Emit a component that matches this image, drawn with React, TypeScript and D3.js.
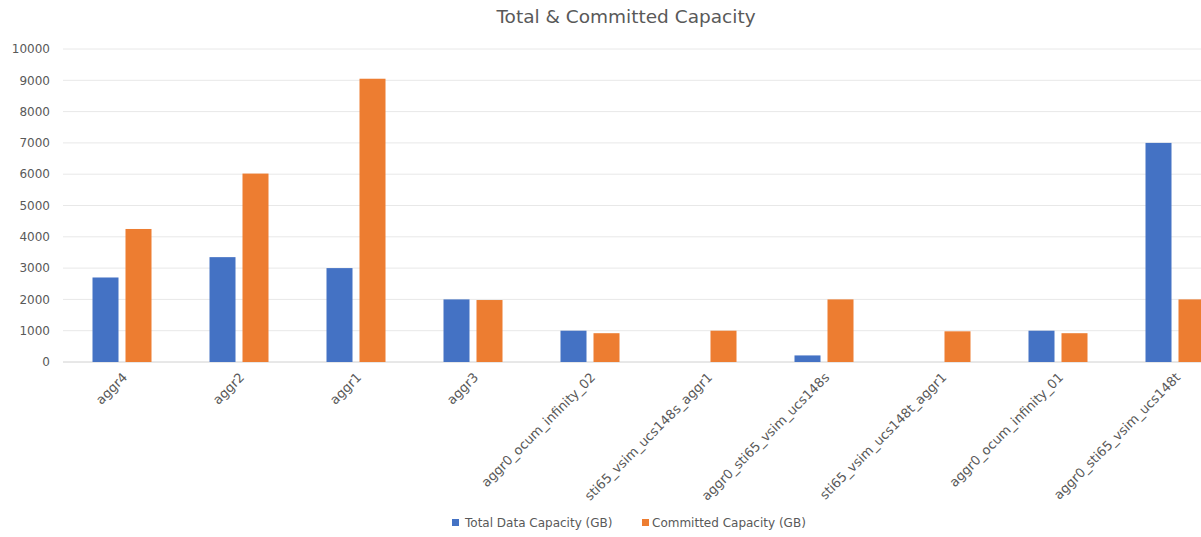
import React from "react";
import * as d3 from "d3";

const categories = [
  "aggr4",
  "aggr2",
  "aggr1",
  "aggr3",
  "aggr0_ocum_infinity_02",
  "sti65_vsim_ucs148s_aggr1",
  "aggr0_sti65_vsim_ucs148s",
  "sti65_vsim_ucs148t_aggr1",
  "aggr0_ocum_infinity_01",
  "aggr0_sti65_vsim_ucs148t",
];
const totalData = [2700, 3350, 3000, 2000, 1000, 0, 210, 0, 1000, 7000];
const committed = [4250, 6020, 9050, 1980, 920, 1000, 2000, 980, 920, 2000];
const yTicks = [0, 1000, 2000, 3000, 4000, 5000, 6000, 7000, 8000, 9000, 10000];
const seriesNames = ["Total Data Capacity (GB)", "Committed Capacity (GB)"];
const colors = ["#4472C4", "#ED7D31"];

const W = 1201;
const H = 537;
const FONT = "'DejaVu Sans', 'Open Sans', sans-serif";

export default function App() {
  const x = d3.scaleBand<string>().domain(categories).range([63.5, 1233.5]);
  const y = d3.scaleLinear().domain([0, 10000]).range([362, 49]);
  const barW = 26;
  const gap = 7;
  const series = [totalData, committed];

  return (
    <svg
      width={W}
      height={H}
      style={{ position: "absolute", left: 0, top: 0, background: "#fff" }}
      fontFamily={FONT}
    >
      <text x={626} y={23} textAnchor="middle" fontSize={18.5} fill="#595959">
        Total &amp; Committed Capacity
      </text>
      {yTicks.map((t) => (
        <g key={t}>
          <line
            x1={63}
            x2={W}
            y1={y(t)}
            y2={y(t)}
            stroke={t === 0 ? "#d0d0d0" : "#e8e8e8"}
            strokeWidth={1}
          />
          <text
            x={50}
            y={y(t)}
            dy="0.35em"
            textAnchor="end"
            fontSize={12}
            fill="#595959"
          >
            {t}
          </text>
        </g>
      ))}
      {categories.map((c, i) => {
        const cx = (x(c) as number) + x.bandwidth() / 2;
        return (
          <g key={c}>
            {series.map((s, k) => {
              const v = s[i];
              if (v <= 0) return null;
              const bx = k === 0 ? cx - gap / 2 - barW : cx + gap / 2;
              return (
                <rect
                  key={k}
                  x={bx}
                  y={y(v)}
                  width={barW}
                  height={y(0) - y(v)}
                  fill={colors[k]}
                />
              );
            })}
            <text
              transform={`translate(${cx + 3},${375}) rotate(-45)`}
              textAnchor="end"
              dy="0.35em"
              fontSize={13}
              fill="#595959"
            >
              {c}
            </text>
          </g>
        );
      })}
      <g>
        <rect x={452} y={519} width={7} height={7} fill={colors[0]} />
        <text x={465} y={523} dy="0.35em" fontSize={12} fill="#595959">
          {seriesNames[0]}
        </text>
        <rect x={642} y={519} width={7} height={7} fill={colors[1]} />
        <text x={652} y={523} dy="0.35em" fontSize={12} fill="#595959">
          {seriesNames[1]}
        </text>
      </g>
    </svg>
  );
}
